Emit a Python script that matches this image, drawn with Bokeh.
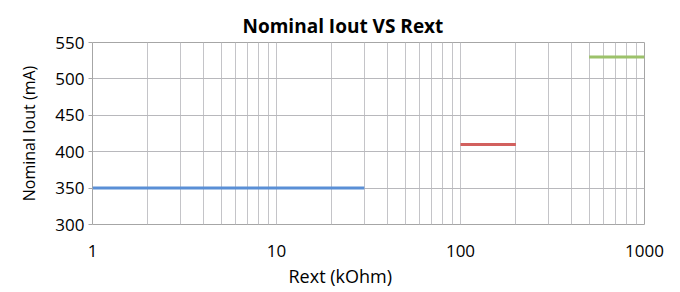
from bokeh.plotting import figure
from bokeh.models import FixedTicker, Range1d, Title
from bokeh.embed import file_html
from bokeh.resources import INLINE

# data
rext_start = [1, 100, 500]
rext_end = [30, 200, 1000]
iout = [350, 410, 530]
colors = ["#5a8fd6", "#d2605e", "#9cc26a"]

x_major = [1, 10, 100, 1000]
x_minor = [2, 3, 4, 5, 6, 7, 8, 9, 20, 30, 40, 50, 60, 70, 80, 90,
           200, 300, 400, 500, 600, 700, 800, 900]
y_ticks = [300, 350, 400, 450, 500, 550]

title_text = "Nominal Iout VS Rext"
x_label_text = "Rext (kOhm)"
y_label_text = "Nominal Iout (mA)"

FONT = "Open Sans"

p = figure(width=680, height=292, x_axis_type="log", output_backend="svg",
           toolbar_location=None, x_range=Range1d(1, 1000), y_range=Range1d(300, 550),
           min_border_left=92, min_border_right=36, min_border_top=42, min_border_bottom=68)

for s, e, v, c in zip(rext_start, rext_end, iout, colors):
    p.line(x=[s, e], y=[v, v], line_color=c, line_width=3)

# title and x-axis label, shifted so they are centred on the whole chart
p.add_layout(Title(text=title_text, align="left", offset=150, standoff=4,
                   vertical_align="top",
                   text_font=FONT, text_font_size="19px", text_font_style="bold",
                   text_color="#000000"), "above")
p.add_layout(Title(text=x_label_text, align="left", offset=196, standoff=5,
                   text_font=FONT, text_font_size="18px", text_font_style="normal",
                   text_color="#000000"), "below")

p.outline_line_color = "#a6a6a6"
p.outline_line_width = 1

p.xaxis.ticker = FixedTicker(ticks=x_major, minor_ticks=x_minor)
p.yaxis.ticker = FixedTicker(ticks=y_ticks)
p.xaxis.major_label_overrides = {1: "1", 10: "10", 100: "100", 1000: "1000"}

p.xgrid.grid_line_color = "#c4c4c8"
p.xgrid.minor_grid_line_color = "#c4c4c8"
p.ygrid.grid_line_color = "#b8b8bc"

for ax in (p.xaxis, p.yaxis):
    ax.axis_line_color = None
    ax.minor_tick_line_color = None
    ax.major_label_text_font = FONT
    ax.major_label_text_font_size = "17px"
    ax.major_label_text_color = "#000000"
    ax.axis_label_text_font = FONT
    ax.axis_label_text_font_size = "16px"
    ax.axis_label_text_font_style = "normal"
    ax.axis_label_text_color = "#000000"

p.xaxis.major_tick_line_color = None
p.xaxis.major_label_standoff = 14

p.yaxis.major_tick_line_color = "#a6a6a6"
p.yaxis.major_tick_out = 4
p.yaxis.major_tick_in = 0
p.yaxis.major_label_standoff = 4
p.yaxis.axis_label = y_label_text
p.yaxis.axis_label_standoff = 12

open("out.html", "w").write(file_html(p, INLINE))
